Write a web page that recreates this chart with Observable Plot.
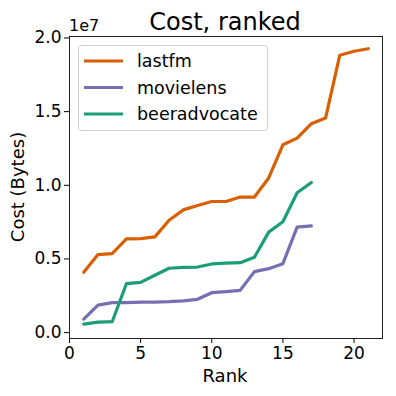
<!DOCTYPE html>
<html><head><meta charset="utf-8">
<script src="https://cdn.jsdelivr.net/npm/d3@7"></script>
<script src="https://cdn.jsdelivr.net/npm/@observablehq/plot@0.6"></script>
<style>body{margin:0;background:white}</style>
</head><body><div id="chart"></div>
<script>
const seriesNames = ["lastfm", "movielens", "beeradvocate"];
const colors = ["#d95f02", "#7570b3", "#1b9e77"];
const lastfm = [0.41,0.53,0.536,0.636,0.638,0.65,0.763,0.833,0.863,0.89,0.89,0.92,0.92,1.05,1.275,1.32,1.418,1.457,1.883,1.91,1.927].map(v=>v*1e7);
const movielens = [0.092,0.187,0.203,0.203,0.207,0.207,0.21,0.216,0.226,0.271,0.278,0.287,0.414,0.434,0.468,0.716,0.725].map(v=>v*1e7);
const beeradvocate = [0.058,0.071,0.074,0.332,0.341,0.389,0.437,0.443,0.445,0.466,0.471,0.475,0.511,0.682,0.752,0.949,1.019].map(v=>v*1e7);
const xTicks = [0,5,10,15,20];
const yTicks = [0,0.5e7,1e7,1.5e7,2e7];

const all = [lastfm, movielens, beeradvocate];
const data = [];
all.forEach((arr,i)=>arr.forEach((v,j)=>data.push({series:seriesNames[i], rank:j+1, cost:v})));

const chart = Plot.plot({
  width:396, height:396,
  marginLeft:69, marginRight:14, marginTop:36, marginBottom:58,
  style:{fontFamily:"DejaVu Sans", fontSize:"17px", background:"white", color:"black"},
  x:{domain:[0,22]},
  y:{domain:[-0.04e7,2.01e7]},
  color:{domain:seriesNames, range:colors},
  marks:[
    Plot.line(data,{x:"rank", y:"cost", stroke:"series", strokeWidth:3.2, strokeLinejoin:"round"}),
    Plot.frame({stroke:"#222", strokeWidth:1}),
    Plot.axisX({ticks:xTicks, tickSize:5, tickPadding:3, label:null, fontSize:17, tickFormat:d=>String(d)}),
    Plot.axisY({ticks:yTicks, tickSize:5, tickPadding:3, label:null, fontSize:17, tickFormat:d=>(d/1e7).toFixed(1)})
  ]
});
document.getElementById("chart").appendChild(chart);

const svg = d3.select(chart);
const ff = "DejaVu Sans";
svg.append("text").attr("x",225).attr("y",30).attr("text-anchor","middle")
  .attr("font-family",ff).attr("font-size",24).attr("fill","black").text("Cost, ranked");
svg.append("text").attr("x",69).attr("y",31).attr("text-anchor","start").attr("font-family",ff).attr("font-size",16).attr("fill","black").text("1e7");
svg.append("text").attr("x",225).attr("y",382).attr("text-anchor","middle")
  .attr("font-family",ff).attr("font-size",18).attr("fill","black").text("Rank");
svg.append("text").attr("transform","translate(24,187) rotate(-90)").attr("text-anchor","middle")
  .attr("font-family",ff).attr("font-size",18).attr("fill","black").text("Cost (Bytes)");

// legend
const lg = svg.append("g");
lg.append("rect").attr("x",78.5).attr("y",45.5).attr("width",189).attr("height",85).attr("rx",3)
  .attr("fill","white").attr("fill-opacity",0.8).attr("stroke","#d0d0d0");
seriesNames.forEach((s,i)=>{
  const y = 61 + i*26.5;
  lg.append("line").attr("x1",84).attr("x2",123).attr("y1",y).attr("y2",y)
    .attr("stroke",colors[i]).attr("stroke-width",3.2);
  lg.append("text").attr("x",137).attr("y",y+6).attr("text-anchor","start").attr("font-family",ff).attr("font-size",17.5)
    .attr("fill","black").text(s);
});
</script></body></html>
